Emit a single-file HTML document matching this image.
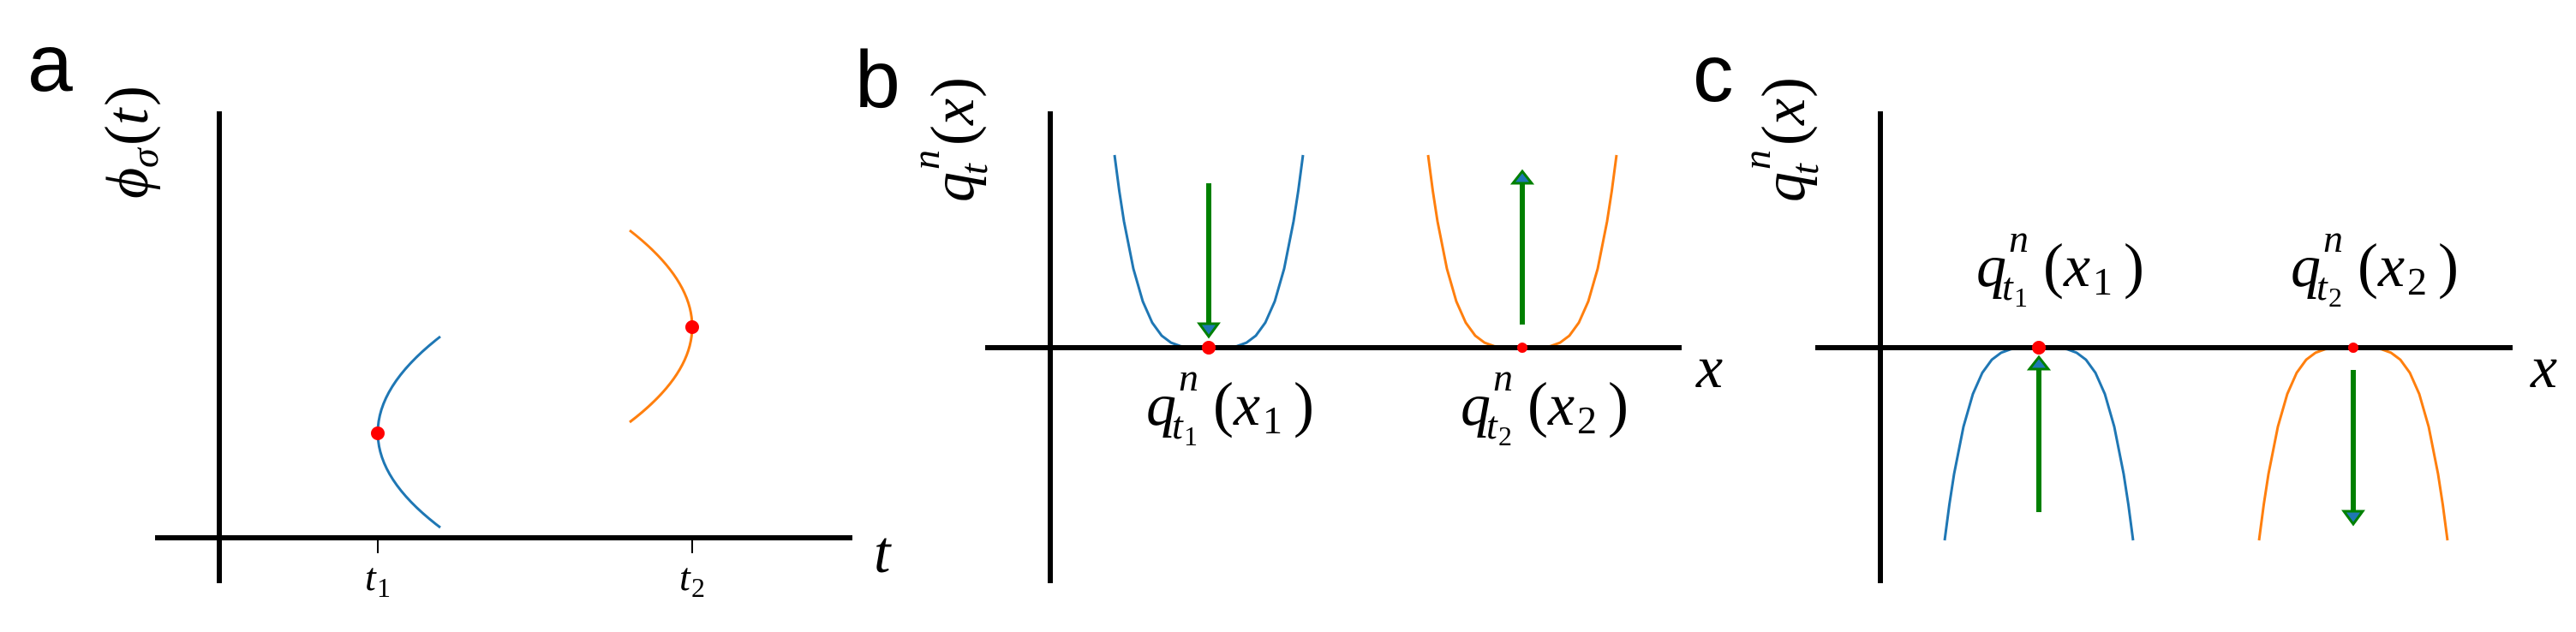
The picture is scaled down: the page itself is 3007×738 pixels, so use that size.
<!DOCTYPE html>
<html><head><meta charset="utf-8"><style>
html,body{margin:0;padding:0;background:#fff;}
svg{display:block;}
.lab{font-family:"Liberation Sans",sans-serif;font-size:95px;}
</style></head><body>
<svg width="3007" height="738" viewBox="0 0 3007 738" xmlns="http://www.w3.org/2000/svg">
<defs>
<path id="well" fill="none" stroke-width="3" d="M-110,-225 L-104.5,-183.3 L-99,-147.6 L-88,-92.2 L-77,-54 L-66,-29.2 L-55,-14.1 L-44,-5.8 L-33,-1.8 L-22,-0.36 L-11,0 L0,0 L11,0 L22,-0.36 L33,-1.8 L44,-5.8 L55,-14.1 L66,-29.2 L77,-54 L88,-92.2 L99,-147.6 L104.5,-183.3 L110,-225"/>
<g id="lbl1" font-family="'Liberation Serif','DejaVu Serif',serif">
<text font-style="italic" x="0" y="0" font-size="70">q</text>
<text font-style="italic" x="38" y="-40" font-size="46">n</text>
<text font-style="italic" x="30" y="16" font-size="46">t</text>
<text x="44" y="24" font-size="32">1</text>
<text x="78" y="0" font-size="72">(</text>
<text font-style="italic" x="102" y="0" font-size="70">x</text>
<text x="136" y="10" font-size="46">1</text>
<text x="172" y="0" font-size="72">)</text>
</g>
<g id="lbl2" font-family="'Liberation Serif','DejaVu Serif',serif">
<text font-style="italic" x="0" y="0" font-size="70">q</text>
<text font-style="italic" x="38" y="-40" font-size="46">n</text>
<text font-style="italic" x="30" y="16" font-size="46">t</text>
<text x="44" y="24" font-size="32">2</text>
<text x="78" y="0" font-size="72">(</text>
<text font-style="italic" x="102" y="0" font-size="70">x</text>
<text x="136" y="10" font-size="46">2</text>
<text x="172" y="0" font-size="72">)</text>
</g>
<g id="ylab" font-family="'Liberation Serif','DejaVu Serif',serif">
<text font-style="italic" x="0" y="0" font-size="70">q</text>
<text font-style="italic" x="38" y="-40" font-size="46">n</text>
<text font-style="italic" x="32" y="16" font-size="46">t</text>
<text x="66" y="0" font-size="72">(</text>
<text font-style="italic" x="90" y="0" font-size="70">x</text>
<text x="122" y="0" font-size="72">)</text>
</g>
</defs>

<!-- Panel a -->
<text class="lab" x="32" y="106">a</text>
<line x1="256" y1="130" x2="256" y2="681" stroke="#000" stroke-width="6"/>
<line x1="181" y1="628" x2="995" y2="628" stroke="#000" stroke-width="6"/>
<line x1="441" y1="628" x2="441" y2="646" stroke="#000" stroke-width="2"/>
<line x1="808" y1="628" x2="808" y2="646" stroke="#000" stroke-width="2"/>
<g font-family="'Liberation Serif','DejaVu Serif',serif">
<text font-style="italic" x="426" y="689" font-size="46">t</text><text x="440" y="697" font-size="32">1</text>
<text font-style="italic" x="793" y="689" font-size="46">t</text><text x="807" y="697" font-size="32">2</text>
<text font-style="italic" x="1020" y="668" font-size="70">t</text>
<g transform="translate(172,232) rotate(-90)">
<text font-style="italic" x="0" y="0" font-size="70">ϕ</text>
<text font-style="italic" x="36" y="12" font-size="46">σ</text>
<text x="62" y="0" font-size="72">(</text>
<text font-style="italic" x="86" y="0" font-size="70">t</text>
<text x="108" y="0" font-size="72">)</text>
</g>
</g>
<path d="M514,393 Q368,506 514,616" fill="none" stroke="#1f77b4" stroke-width="3"/>
<path d="M735,269 Q881,382 735,493" fill="none" stroke="#ff7f0e" stroke-width="3"/>
<circle cx="441" cy="506" r="8" fill="#ff0000"/>
<circle cx="808" cy="382" r="8" fill="#ff0000"/>

<!-- Panel b -->
<text class="lab" x="998" y="125">b</text>
<line x1="1226" y1="130" x2="1226" y2="681" stroke="#000" stroke-width="6"/>
<use href="#well" transform="translate(1411,406)" stroke="#1f77b4"/>
<use href="#well" transform="translate(1777,406)" stroke="#ff7f0e"/>
<line x1="1150" y1="406" x2="1963" y2="406" stroke="#000" stroke-width="6"/>
<circle cx="1411" cy="406" r="8" fill="#ff0000"/>
<circle cx="1777" cy="406" r="6" fill="#ff0000"/>
<line x1="1411" y1="214" x2="1411" y2="378" stroke="#008000" stroke-width="6"/>
<polygon points="1400,378 1422,378 1411,393" fill="#1f77b4" stroke="#008000" stroke-width="3"/>
<line x1="1777" y1="379" x2="1777" y2="214" stroke="#008000" stroke-width="6"/>
<polygon points="1766,214 1788,214 1777,200" fill="#1f77b4" stroke="#008000" stroke-width="3"/>
<use href="#lbl1" transform="translate(1338,496)"/>
<use href="#lbl2" transform="translate(1705,496)"/>
<text font-family="'Liberation Serif','DejaVu Serif',serif" font-style="italic" x="1980" y="452" font-size="70">x</text>
<g transform="translate(1136,236) rotate(-90)"><use href="#ylab"/></g>

<!-- Panel c -->
<text class="lab" x="1976" y="118">c</text>
<line x1="2195" y1="130" x2="2195" y2="681" stroke="#000" stroke-width="6"/>
<use href="#well" transform="translate(2380,406) scale(1,-1)" stroke="#1f77b4"/>
<use href="#well" transform="translate(2747,406) scale(1,-1)" stroke="#ff7f0e"/>
<line x1="2119" y1="406" x2="2933" y2="406" stroke="#000" stroke-width="6"/>
<circle cx="2380" cy="406" r="8" fill="#ff0000"/>
<circle cx="2747" cy="406" r="6" fill="#ff0000"/>
<line x1="2380" y1="598" x2="2380" y2="431" stroke="#008000" stroke-width="6"/>
<polygon points="2369,431 2391,431 2380,417" fill="#1f77b4" stroke="#008000" stroke-width="3"/>
<line x1="2747" y1="432" x2="2747" y2="597" stroke="#008000" stroke-width="6"/>
<polygon points="2736,597 2758,597 2747,612" fill="#1f77b4" stroke="#008000" stroke-width="3"/>
<use href="#lbl1" transform="translate(2307,334)"/>
<use href="#lbl2" transform="translate(2674,334)"/>
<text font-family="'Liberation Serif','DejaVu Serif',serif" font-style="italic" x="2954" y="452" font-size="70">x</text>
<g transform="translate(2106,236) rotate(-90)"><use href="#ylab"/></g>
</svg>
</body></html>
